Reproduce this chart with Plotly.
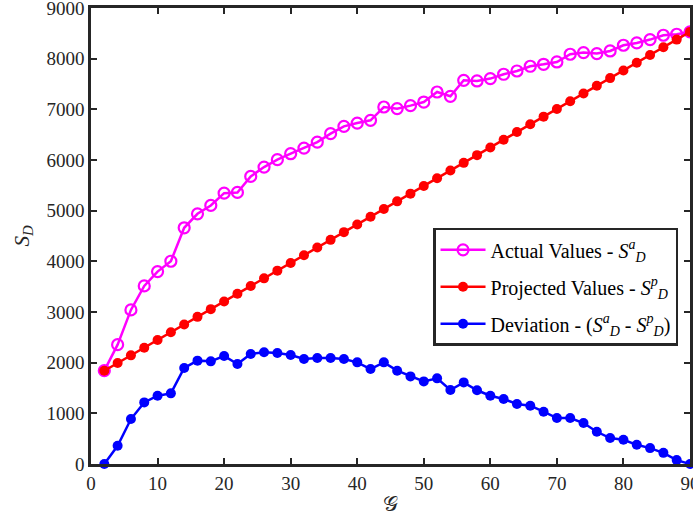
import plotly.graph_objects as go

g_values = list(range(2, 91, 2))

actual = [1842, 2356, 3041, 3515, 3798, 4002, 4662, 4938, 5103, 5346,
          5360, 5676, 5860, 6006, 6124, 6235, 6354, 6520, 6664, 6729,
          6783, 7046, 7014, 7073, 7144, 7342, 7257, 7573, 7560, 7607,
          7692, 7757, 7850, 7889, 7935, 8087, 8120, 8100, 8152, 8265,
          8311, 8377, 8462, 8482, 8528]

projected = [1840, 1992, 2144, 2296, 2448, 2600, 2752, 2904, 3056, 3208,
             3360, 3512, 3664, 3816, 3968, 4120, 4272, 4424, 4576, 4728,
             4880, 5032, 5184, 5336, 5488, 5640, 5792, 5944, 6096, 6248,
             6400, 6552, 6704, 6856, 7008, 7160, 7312, 7464, 7616, 7768,
             7920, 8072, 8224, 8376, 8528]

deviation = [0, 360, 887, 1216, 1348, 1394, 1895, 2040, 2026, 2132,
             1974, 2172, 2204, 2191, 2152, 2073, 2093, 2093, 2073, 2006,
             1875, 2006, 1842, 1729, 1630, 1690, 1460, 1611, 1455, 1348,
             1282, 1184, 1150, 1032, 907, 907, 808, 636, 512, 478,
             379, 314, 220, 77, 0]

x_ticks = [0, 10, 20, 30, 40, 50, 60, 70, 80, 90]
y_ticks = [0, 1000, 2000, 3000, 4000, 5000, 6000, 7000, 8000, 9000]

FONT = "Liberation Serif, 'Times New Roman', 'DejaVu Serif', serif"

fig = go.Figure()
fig.add_trace(go.Scatter(
    x=g_values, y=actual, mode="lines+markers", cliponaxis=False,
    legendgroup="a",
    name="Actual Values - <i>S</i><sup><i>a</i></sup><sub><i>D</i></sub>",
    line=dict(color="#ff00ff", width=2.5),
    marker=dict(symbol="circle-open", size=11, color="#ff00ff", line=dict(width=2.2, color="#ff00ff")),
))
fig.add_trace(go.Scatter(
    x=g_values, y=projected, mode="lines+markers", cliponaxis=False,
    legendgroup="p",
    name="Projected Values - <i>S</i><sup><i>p</i></sup><sub><i>D</i></sub>",
    line=dict(color="#ff0000", width=2.5),
    marker=dict(symbol="circle", size=10, color="#ff0000"),
))
fig.add_trace(go.Scatter(
    x=g_values, y=deviation, mode="lines+markers", cliponaxis=False,
    legendgroup="d",
    name="Deviation - (<i>S</i><sup><i>a</i></sup><sub><i>D</i></sub> - <i>S</i><sup><i>p</i></sup><sub><i>D</i></sub>)",
    line=dict(color="#0000ff", width=2.5),
    marker=dict(symbol="circle", size=10, color="#0000ff"),
))

axis_common = dict(
    showgrid=False, zeroline=False, showline=True, linecolor="#262626", linewidth=2.5,
    mirror="ticks", ticks="inside", ticklen=6, tickwidth=2, tickcolor="#262626",
    tickfont=dict(family=FONT, size=19, color="#262626"),
    ticklabeloverflow="allow", automargin=False,
)

fig.update_layout(
    width=693, height=527,
    margin=dict(l=91, r=3, t=8, b=63, pad=0, autoexpand=False),
    paper_bgcolor="white", plot_bgcolor="white",
    font=dict(family=FONT, color="#262626"),
    xaxis=dict(range=[0, 90], tickvals=x_ticks, ticktext=[str(v) for v in x_ticks],
               title=dict(text="𝒢", font=dict(family=FONT, size=21, color="#262626"), standoff=4),
               **axis_common),
    yaxis=dict(range=[0, 9000], tickvals=y_ticks, ticktext=[str(v) for v in y_ticks],
               title=dict(text="<i>S</i><sub><i>D</i></sub>", font=dict(family=FONT, size=21, color="#262626"), standoff=12),
               **axis_common),
    legend=dict(x=0.571, y=0.518, xanchor="left", yanchor="top",
                bgcolor="white", bordercolor="#262626", borderwidth=2.5,
                font=dict(family=FONT, size=20, color="black"),
                traceorder="grouped", tracegroupgap=8,
                itemwidth=45),
    showlegend=True,
)

fig.write_html("out.html",
               config={"displayModeBar": False},
               post_script="document.body.style.margin='0';document.body.style.overflow='hidden';")
